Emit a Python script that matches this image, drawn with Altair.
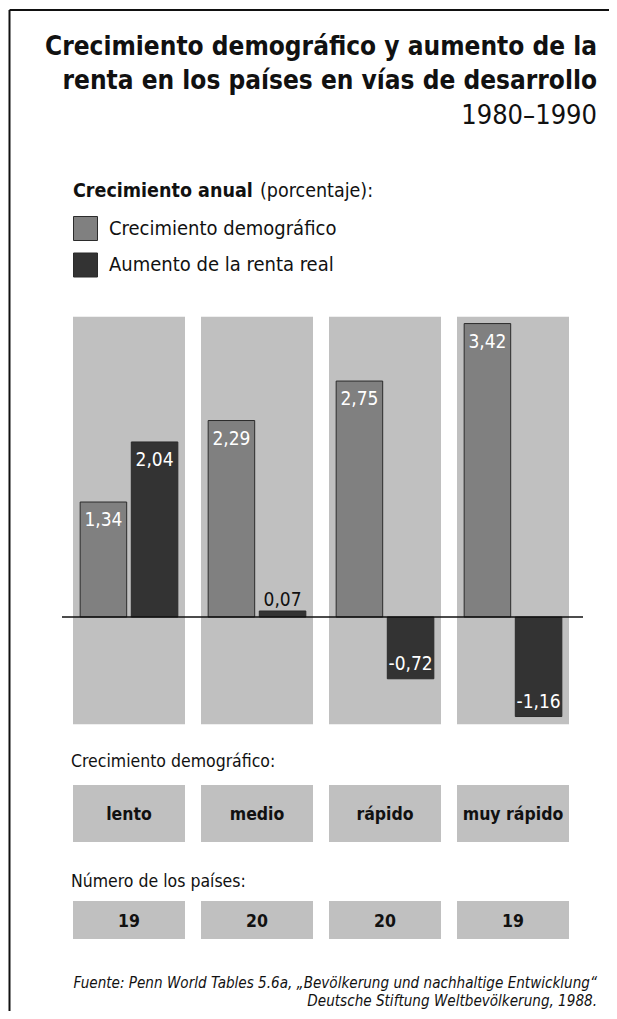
import altair as alt
import pandas as pd

# ---------------- data ----------------
categories = ["lento", "medio", "rápido", "muy rápido"]
series_names = ["Crecimiento demográfico", "Aumento de la renta real"]
pop_growth = [1.34, 2.29, 2.75, 3.42]
income_growth = [2.04, 0.07, -0.72, -1.16]
countries = [19, 20, 20, 19]

title_lines = ["Crecimiento demográfico y aumento de la",
               "renta en los países en vías de desarrollo"]
period = "1980\u20131990"
legend_head_bold = "Crecimiento anual"
legend_head_rest = "(porcentaje):"
section1 = "Crecimiento demográfico:"
section2 = "Número de los países:"
source_lines = ["Fuente: Penn World Tables 5.6a, \u201eBevölkerung und nachhaltige Entwicklung\u201c",
                "Deutsche Stiftung Weltbevölkerung, 1988."]

# ---------------- tables ----------------
rows = []
for c, p, i in zip(categories, pop_growth, income_growth):
    rows.append({"cat": c, "serie": series_names[0], "valor": p})
    rows.append({"cat": c, "serie": series_names[1], "valor": i})
bars_df = pd.DataFrame(rows)
bars_df["lab"] = bars_df["valor"].map(lambda v: f"{v:.2f}".replace(".", ","))
cat_df = pd.DataFrame({"cat": categories, "n": countries})

FONT = "DejaVu Sans Condensed, Liberation Sans Narrow, sans-serif"
W, H = 601, 1003
ZERO_PX, PX_UNIT = 609.0, 85.8

xs = alt.Scale(domain=categories, range=[65, 561], paddingInner=0.125, paddingOuter=0)
ys = alt.Scale(domain=[-(H - ZERO_PX) / PX_UNIT, ZERO_PX / PX_UNIT], nice=False, zero=False)
xo = alt.Scale(domain=series_names, paddingInner=0.09, paddingOuter=0.14)


def X():
    return alt.X("cat:N", scale=xs, axis=None, sort=categories)


def XO():
    return alt.XOffset("serie:N", scale=xo, sort=series_names)


bg = alt.Chart(cat_df).mark_rect(color="#c0c0c0").encode(
    x=X(),
    y=alt.YDatum(3.5, type="quantitative", scale=ys, axis=None),
    y2=alt.Y2Datum(-1.25),
)

bars = alt.Chart(bars_df).mark_bar(stroke="#2b2b2b", strokeWidth=1).encode(
    x=X(),
    xOffset=XO(),
    y=alt.Y("valor:Q", scale=ys, axis=None),
    y2=alt.Y2Datum(0),
    color=alt.Color(
        "serie:N",
        sort=series_names,
        scale=alt.Scale(domain=series_names, range=["#808080", "#333333"]),
        legend=alt.Legend(
            orient="none", legendX=65, legendY=208, title=None,
            symbolType="square", symbolSize=576, symbolStrokeColor="#2b2b2b",
            symbolStrokeWidth=1, symbolOpacity=1,
            labelFont=FONT, labelFontSize=20, labelColor="#111111",
            labelOffset=11, rowPadding=7.5, padding=0, labelLimit=400,
        ),
    ),
)

zero_rule = alt.Chart(pd.DataFrame({"z": [0]})).mark_rule(color="#111111", strokeWidth=1.5).encode(
    y=alt.Y("z:Q", scale=ys, axis=None),
    x=alt.value(54), x2=alt.value(575),
)

LAB = 19
lab_pos = alt.Chart(bars_df).transform_filter("datum.valor > 0.5").mark_text(
    baseline="top", dy=9, font=FONT, fontSize=LAB, color="white"
).encode(x=X(), xOffset=XO(), y=alt.Y("valor:Q", scale=ys, axis=None), text="lab:N")

lab_small = alt.Chart(bars_df).transform_filter("datum.valor > 0 && datum.valor <= 0.5").mark_text(
    baseline="alphabetic", dy=-5, font=FONT, fontSize=LAB, color="#111111"
).encode(x=X(), xOffset=XO(), y=alt.Y("valor:Q", scale=ys, axis=None), text="lab:N")

lab_neg = alt.Chart(bars_df).transform_filter("datum.valor < 0").mark_text(
    baseline="alphabetic", dy=-9, font=FONT, fontSize=LAB, color="white"
).encode(x=X(), xOffset=XO(), y=alt.Y("valor:Q", scale=ys, axis=None), text="lab:N")

box1 = alt.Chart(cat_df).mark_rect(color="#c0c0c0").encode(
    x=X(), y=alt.value(777), y2=alt.value(834))
box1_t = alt.Chart(cat_df).mark_text(
    baseline="middle", font=FONT, fontSize=17.5, fontWeight="bold", color="#111111"
).encode(x=X(), y=alt.value(807), text="cat:N")

box2 = alt.Chart(cat_df).mark_rect(color="#c0c0c0").encode(
    x=X(), y=alt.value(893), y2=alt.value(931))
box2_t = alt.Chart(cat_df).mark_text(
    baseline="middle", font=FONT, fontSize=17.5, fontWeight="bold", color="#111111"
).encode(x=X(), y=alt.value(913.5), text="n:N")


def txt(s, x, y, size, weight="normal", align="left", style="normal"):
    return alt.Chart(pd.DataFrame({"t": [s]})).mark_text(
        align=align, baseline="alphabetic", fontSize=size, fontWeight=weight,
        fontStyle=style, font=FONT, color="#111111"
    ).encode(x=alt.value(x), y=alt.value(y), text="t:N")


texts = [
    txt(title_lines[0], 589, 47, 26, "bold", "right"),
    txt(title_lines[1], 589, 81, 26, "bold", "right"),
    txt(period, 589, 116, 27, "normal", "right"),
    txt(legend_head_bold, 65, 189, 19.5, "bold"),
    txt(legend_head_rest, 252, 189, 19.5),
    txt(section1, 63, 759, 17.5),
    txt(section2, 63, 879, 17.5),
    txt(source_lines[0], 589, 980, 15.1, "normal", "right", "italic"),
    txt(source_lines[1], 589, 998, 15.1, "normal", "right", "italic"),
]

frame_df = pd.DataFrame({"k": [0]})
left_border = alt.Chart(frame_df).mark_rule(color="#111111", strokeWidth=2).encode(
    x=alt.value(1.5), y=alt.value(2), y2=alt.value(H))
top_border = alt.Chart(frame_df).mark_rule(color="#111111", strokeWidth=2).encode(
    y=alt.value(2), x=alt.value(1.5), x2=alt.value(W))

chart = alt.layer(
    bg, bars, zero_rule, lab_pos, lab_small, lab_neg,
    box1, box1_t, box2, box2_t, *texts, left_border, top_border
).properties(width=W, height=H, padding=0, autosize="none").configure_view(stroke=None)

chart.save("out.html", embed_options={"renderer": "svg", "actions": False})
